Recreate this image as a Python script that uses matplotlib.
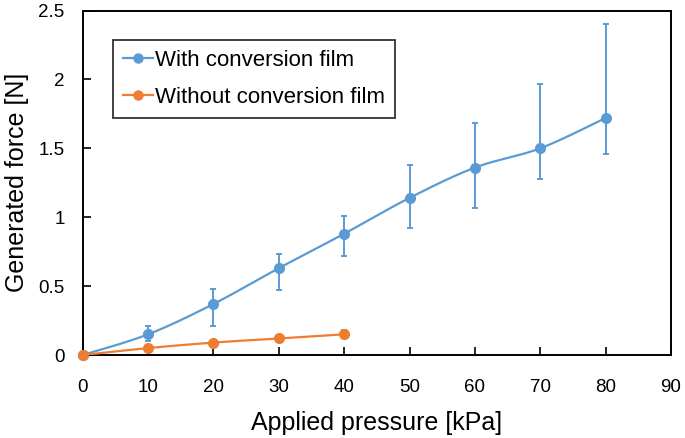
import numpy as np
import matplotlib.pyplot as plt
from matplotlib.lines import Line2D

plt.rcParams['font.family'] = ['Liberation Sans', 'DejaVu Sans']

# data
pressure_with = [0, 10, 20, 30, 40, 50, 60, 70, 80]
force_with = [0.0, 0.15, 0.37, 0.63, 0.88, 1.14, 1.36, 1.50, 1.72]
err_with_low = [0.0, 0.05, 0.16, 0.16, 0.16, 0.22, 0.29, 0.22, 0.26]
err_with_high = [0.0, 0.06, 0.11, 0.10, 0.13, 0.24, 0.32, 0.47, 0.68]

pressure_without = [0, 10, 20, 30, 40]
force_without = [0.0, 0.05, 0.09, 0.12, 0.15]
err_without = [0.0, 0.01, 0.01, 0.02, 0.03]

BLUE = '#5B9BD5'
ORANGE = '#ED7D31'


def smooth(x, y, n=30):
    # Catmull-Rom style curve through the points (like Excel's smoothed line)
    x = np.asarray(x, float)
    y = np.asarray(y, float)
    px = np.concatenate([[x[0]], x, [x[-1]]])
    py = np.concatenate([[y[0]], y, [y[-1]]])
    xs, ys = [], []
    t = np.linspace(0, 1, n)
    for i in range(1, len(px) - 2):
        p0, p1, p2, p3 = (np.array([px[j], py[j]]) for j in (i - 1, i, i + 1, i + 2))
        c1 = p1 + (p2 - p0) / 6
        c2 = p2 - (p3 - p1) / 6
        b = ((1 - t) ** 3)[:, None] * p1 + (3 * (1 - t) ** 2 * t)[:, None] * c1 \
            + (3 * (1 - t) * t ** 2)[:, None] * c2 + (t ** 3)[:, None] * p2
        xs.extend(b[:, 0])
        ys.extend(b[:, 1])
    return np.array(xs), np.array(ys)


W, H = 685, 438
fig = plt.figure(figsize=(W / 100, H / 100), dpi=100)
ax = fig.add_axes([82.7 / W, 1 - 355 / H, (671 - 82.7) / W, (355 - 10.5) / H])

sx, sy = smooth(pressure_with, force_with)
ax.plot(sx, sy, color=BLUE, lw=1.6, zorder=2)
ax.errorbar(pressure_with, force_with, yerr=[err_with_low, err_with_high],
            fmt='o', color=BLUE, ms=7, elinewidth=1.4, capsize=2.5, capthick=1.4, zorder=3,
            clip_on=False)

sx2, sy2 = smooth(pressure_without, force_without)
ax.plot(sx2, sy2, color=ORANGE, lw=1.6, zorder=4)
ax.errorbar(pressure_without, force_without, yerr=err_without,
            fmt='o', color=ORANGE, ms=7, elinewidth=1.4, capsize=2.5, capthick=1.4, zorder=5,
            clip_on=False)

ax.set_xlim(0, 90)
ax.set_ylim(0, 2.5)
ax.set_xticks(range(0, 91, 10))
ax.set_yticks([0, 0.5, 1, 1.5, 2, 2.5])
ax.set_yticklabels(['0', '0.5', '1', '1.5', '2', '2.5'])
ax.tick_params(axis='both', labelsize=13.5, direction='in', length=6, width=1.2,
               colors='black')
ax.tick_params(axis='x', pad=17)
ax.tick_params(axis='y', pad=13)
for s in ax.spines.values():
    s.set_linewidth(1.4)

ax.set_xlabel('Applied pressure [kPa]', fontsize=18, labelpad=11)
ax.set_ylabel('Generated force [N]', fontsize=18, labelpad=7)

handles = [Line2D([], [], color=BLUE, marker='o', ms=6.5, lw=1.6),
           Line2D([], [], color=ORANGE, marker='o', ms=6.5, lw=1.6)]
leg = ax.legend(handles, ['With conversion film', 'Without conversion film'],
                loc='upper left', bbox_to_anchor=((113 - 82.7) / (671 - 82.7), (355 - 40) / (355 - 10.5)),
                fontsize=16, frameon=True, fancybox=False, edgecolor='black',
                handlelength=1.35, handletextpad=0.1, borderpad=0.45, labelspacing=0.72,
                borderaxespad=0)
leg.get_frame().set_linewidth(1.3)

fig.savefig('out.png', dpi=100)
